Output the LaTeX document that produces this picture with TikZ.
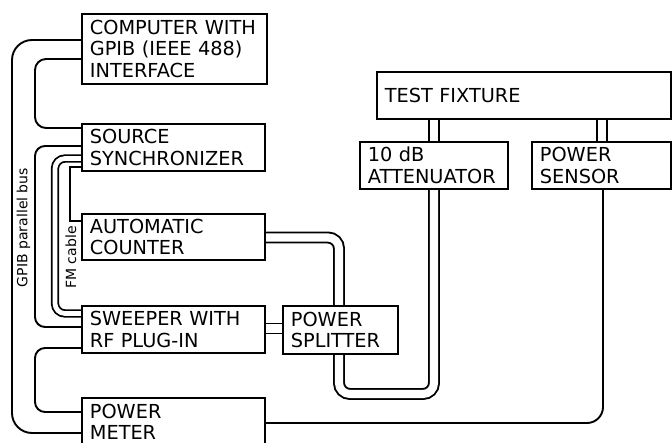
\documentclass[tikz,border=0pt]{standalone}
\usepackage{fontspec}
\setmainfont{DejaVu Sans}
\usetikzlibrary{backgrounds}
\newcommand\mybxfont{\fontsize{19.3}{21.3}\selectfont}
\newcommand\mylblfont{\fontsize{14}{16}\selectfont}
\tikzset{
  box/.style={draw, line width=1.8pt, anchor=north west, align=left,
    inner xsep=8pt, inner ysep=0pt, font=\mybxfont},
  wire/.style={draw, line width=1.9pt},
  coax/.style={draw, line width=1.9pt, double=white, double distance=8.1pt},
  fmcoax/.style={draw, line width=1.8pt, double=white, double distance=4.7pt},
  lbl/.style={rotate=90, font=\mylblfont, inner sep=0pt}
}
\begin{document}
\begin{tikzpicture}[x=1pt,y=-1pt]
\useasboundingbox (0,0) rectangle (672,443);
\clip (0,0) rectangle (672,443);
% boxes
\node[box, text width=169pt, minimum height=70pt] (comp) at (81,13) {COMPUTER WITH\\GPIB (IEEE 488)\\INTERFACE};
\node[box, text width=167pt, minimum height=47pt] (sync) at (81,123) {SOURCE\\SYNCHRONIZER};
\node[box, text width=167pt, minimum height=46pt] (cnt) at (81,213) {AUTOMATIC\\COUNTER};
\node[box, text width=167pt, minimum height=47pt] (swp) at (81,305) {SWEEPER WITH\\RF PLUG-IN};
\node[box, text width=167pt, minimum height=48pt] (pm) at (81,397) {POWER\\METER};
\node[box, text width=99pt, minimum height=48pt] (spl) at (282,305) {POWER\\SPLITTER};
\node[box, text width=278pt, minimum height=47pt] (fix) at (376,71) {TEST FIXTURE};
\node[box, text width=132pt, minimum height=47pt] (att) at (359,141) {10 dB\\ATTENUATOR};
\node[box, text width=123pt, minimum height=47pt] (sen) at (531,141) {POWER\\SENSOR};
% labels
\node[lbl] (gpib) at (23.5,227.5) {GPIB parallel bus};
\node[lbl] (fm) at (71,257.5) {FM cable};
% connectors
\begin{pgfonlayer}{background}
\draw[wire, rounded corners=20pt] (comp.west |- 0,40) -- (12,40) -- (12,433) -- (pm.west |- 0,433);
\draw[wire, rounded corners=11pt] (comp.west |- 0,59) -- (35,59) -- (35,128) -- (sync.west |- 0,128);
\draw[wire, rounded corners=10pt] (sync.west |- 0,146) -- (35,146) -- (35,327) -- (swp.west |- 0,327);
\draw[wire, rounded corners=10pt] (swp.west |- 0,348) -- (35,348) -- (35,412) -- (pm.west |- 0,412);
\draw[fmcoax, rounded corners=10pt] (sync.west |- 0,158.5) -- (55,158.5) -- (55,313.5) -- (swp.west |- 0,313.5);
\draw[wire] (sync.west |- 0,167) -- (70,167) -- (70,221) -- (cnt.west |- 0,221);
\draw[coax] (swp.east |- 0,328.5) -- (spl.west |- 0,328.5);
\draw[coax, rounded corners=11pt] (cnt.east |- 0,237.5) -- (339,237.5) -- (spl.north -| 339,0);
\draw[coax, rounded corners=11pt] (spl.south -| 339,0) -- (339,394) -- (434,394) -- (att.south -| 434,0);
\draw[coax] (att.north -| 434,0) -- (fix.south -| 434,0);
\draw[coax] (sen.north -| 602,0) -- (fix.south -| 602,0);
\draw[wire, rounded corners=16pt] (sen.south -| 603,0) -- (603,423) -- (pm.east |- 0,423);
\end{pgfonlayer}
\end{tikzpicture}
\end{document}
